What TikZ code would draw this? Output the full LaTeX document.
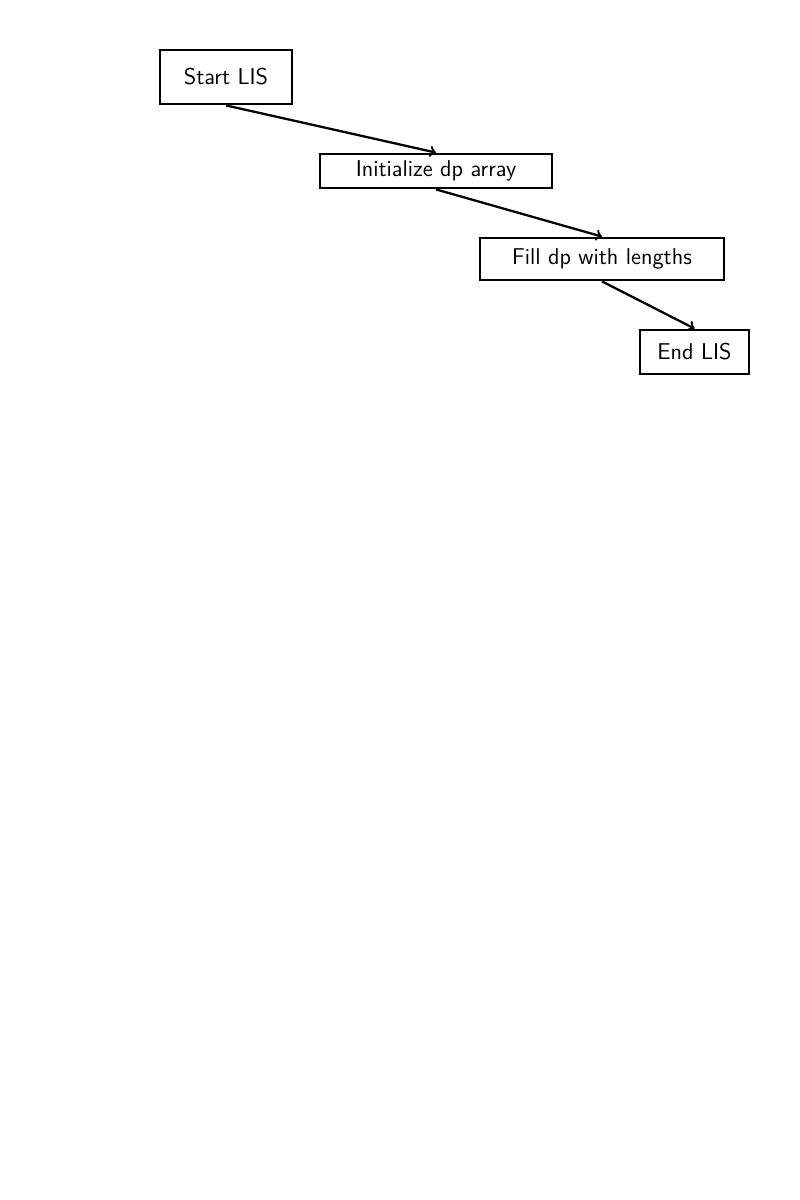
\documentclass[tikz,border=0pt]{standalone}
\usepackage{tikz}
\usetikzlibrary{arrows,calc,shapes}

\begin{document}
\begin{tikzpicture}[x=0.02cm,y=-0.02cm,
  stepbox/.style={draw=black,line width=1.6pt,rectangle,inner sep=0pt,font=\sffamily\fontsize{13}{15}\selectfont},
  flow/.style={->,line width=1.3pt}]
\useasboundingbox (0,0) rectangle (800,1200);
% the boxes
\node[stepbox,minimum width=2.64cm,minimum height=1.08cm] (start) at (226,77) {Start LIS};
\node[stepbox,minimum width=4.64cm,minimum height=0.68cm] (init) at (436,171) {Initialize dp array};
\node[stepbox,minimum width=4.88cm,minimum height=0.84cm] (fill) at (602,259) {Fill dp with lengths};
\node[stepbox,minimum width=2.18cm,minimum height=0.88cm] (end) at (694.5,352) {End LIS};
% the arrows
\draw[flow] (start.south) -- (init.north);
\draw[flow] (init.south) -- (fill.north);
\draw[flow] (fill.south) -- (end.north);
\end{tikzpicture}
\end{document}
